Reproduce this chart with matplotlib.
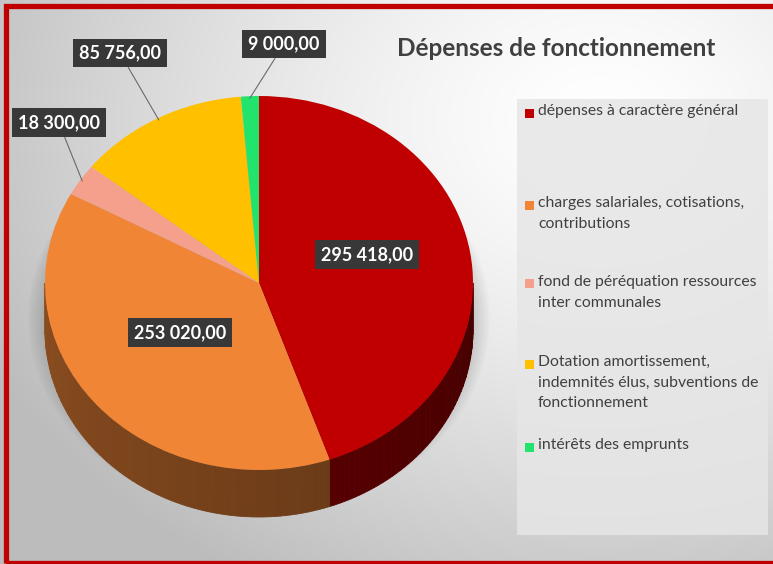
import numpy as np
import matplotlib
matplotlib.use("Agg")
import matplotlib.pyplot as plt
from matplotlib.patches import Rectangle, Polygon, Ellipse
import matplotlib.colors as mcolors

# ---------------- data ----------------
title = "Dépenses de fonctionnement"
categories = [
    "dépenses à caractère général",
    "charges salariales, cotisations, contributions",
    "fond de péréquation ressources inter communales",
    "Dotation amortissement, indemnités élus, subventions de fonctionnement",
    "intérêts des emprunts",
]
legend_labels = [
    "dépenses à caractère général",
    "charges salariales, cotisations,\ncontributions",
    "fond de péréquation ressources\ninter communales",
    "Dotation amortissement,\nindemnités élus, subventions de\nfonctionnement",
    "intérêts des emprunts",
]
values = [295418.00, 253020.00, 18300.00, 85756.00, 9000.00]
colors = ["#C00000", "#F08536", "#F4A08C", "#FFC000", "#22E36C"]

# ---------------- layout ----------------
W, H = 773, 564
fig = plt.figure(figsize=(W / 100, H / 100), dpi=100)

# background gradient
bg = fig.add_axes([0, 0, 1, 1])
yy, xx = np.mgrid[0:H, 0:W]
dist = np.sqrt(((xx - 600) / 720.0) ** 2 + ((yy - 120) / 560.0) ** 2)
shade = np.clip(1.0 - 0.28 * dist ** 1.4, 0.74, 1.0)
img = np.dstack([shade, shade, shade])
bg.imshow(img, extent=[0, W, H, 0], aspect="auto", interpolation="bilinear")
bg.set_xlim(0, W)
bg.set_ylim(H, 0)
bg.axis("off")

def fx(px):
    return px / W

def fy(py):
    return 1 - py / H

# pie axes (ellipse: rx=214, ry=187 px, centre 259,283)
cx, cy, rx, ry = 259, 283, 214, 187
xl, xr, yb, yt = -1.05, 1.05, -1.45, 1.05
ax = fig.add_axes([fx(cx + xl * rx), fy(cy - yb * ry), (xr - xl) * rx / W, (yt - yb) * ry / H])
ax.patch.set_alpha(0)

depth = 47 / ry

# soft shadow
for k in range(12):
    s = 0.98 + 0.009 * k
    ax.add_patch(Ellipse((0.0, -depth * 0.75), 2 * s, 2 * s * 0.97,
                         facecolor="black", alpha=0.014, lw=0, zorder=0.2, clip_on=False))

total = sum(values)
fracs = [v / total for v in values]
cum = np.concatenate([[0], np.cumsum(fracs)])

# 3D sides (front half only)
for i, c in enumerate(colors):
    a_start = 90 - cum[i] * 360
    a_end = 90 - cum[i + 1] * 360
    lo, hi = max(a_end, -180), min(a_start, 0)
    if lo >= hi:
        continue
    base = np.array(mcolors.to_rgb(c))
    edges = np.linspace(lo, hi, int((hi - lo) / 1.5) + 2)
    for t1, t2 in zip(edges[:-1], edges[1:]):
        tm = 0.5 * (t1 + t2)
        f = 0.58 - 0.22 * (tm + 180) / 180
        col = np.clip(base * f, 0, 1)
        ts = np.radians(np.linspace(t1, t2, 4))
        top = np.c_[np.cos(ts), np.sin(ts)]
        bot = np.c_[np.cos(ts[::-1]), np.sin(ts[::-1]) - depth]
        ax.add_patch(Polygon(np.vstack([top, bot]), closed=True, facecolor=col,
                             edgecolor=col, lw=0.6, zorder=0.8))

wedges, _ = ax.pie(values, colors=colors, startangle=90, counterclock=False,
                   wedgeprops=dict(linewidth=0), frame=False)
ax.set_aspect("auto")
ax.set_xlim(xl, xr)
ax.set_ylim(yb, yt)
ax.axis("off")

# data labels
def fmt(v):
    return f"{v:,.2f}".replace(",", " ").replace(".", ",")

label_pos = [(0.505, 0.15), (-0.369, -0.267), (-0.935, 0.856), (-0.65, 1.23), (0.117, 1.278)]
outer = [False, False, True, True, True]
for i, v in enumerate(values):
    mid = np.radians(90 - 0.5 * (cum[i] + cum[i + 1]) * 360)
    bbox = dict(boxstyle="square,pad=0.33", fc="#383838", ec="none")
    kw = dict(color="white", fontsize=13, fontweight="bold", family=["Lato", "DejaVu Sans"],
              ha="center", va="center", bbox=bbox, zorder=5)
    if outer[i]:
        ax.annotate(fmt(v), xy=(np.cos(mid) * 0.99, np.sin(mid) * 0.99), xytext=label_pos[i],
                    arrowprops=dict(arrowstyle="-", color="#6a6a6a", lw=0.8,
                                    shrinkA=0, shrinkB=0), annotation_clip=False, **kw)
    else:
        ax.text(label_pos[i][0], label_pos[i][1], fmt(v), **kw)

# title
fig.text(fx(556), fy(49), title, ha="center", va="center", fontsize=17.5,
         fontweight="bold", color="#404040", family=["Lato", "DejaVu Sans"])

# legend box
fig.patches.append(Rectangle((fx(517), fy(535)), fx(768) - fx(517), fy(99) - fy(535),
                             transform=fig.transFigure, facecolor="#e6e6e6", edgecolor="none",
                             alpha=0.85, zorder=1))
leg_y = [113, 205, 284, 364, 447]
for i, lab in enumerate(legend_labels):
    y = leg_y[i]
    fig.patches.append(Rectangle((fx(525), fy(y + 4.5)), 9 / W, 9 / H, transform=fig.transFigure,
                                 facecolor=colors[i], edgecolor="none", zorder=2))
    fig.text(fx(538), fy(y - 9), lab, ha="left", va="top", fontsize=11.3, color="#404040",
             linespacing=1.6, family=["Lato", "DejaVu Sans"], zorder=3)

# red frame (left, top, bottom)
fig.patches.append(Rectangle((fx(5.5), fy(563)), 1.2, fy(5.5) - fy(563),
                             transform=fig.transFigure, facecolor="none", edgecolor="#C00000",
                             lw=3.8, zorder=10, clip_on=False))

fig.savefig("out.png", dpi=100)
